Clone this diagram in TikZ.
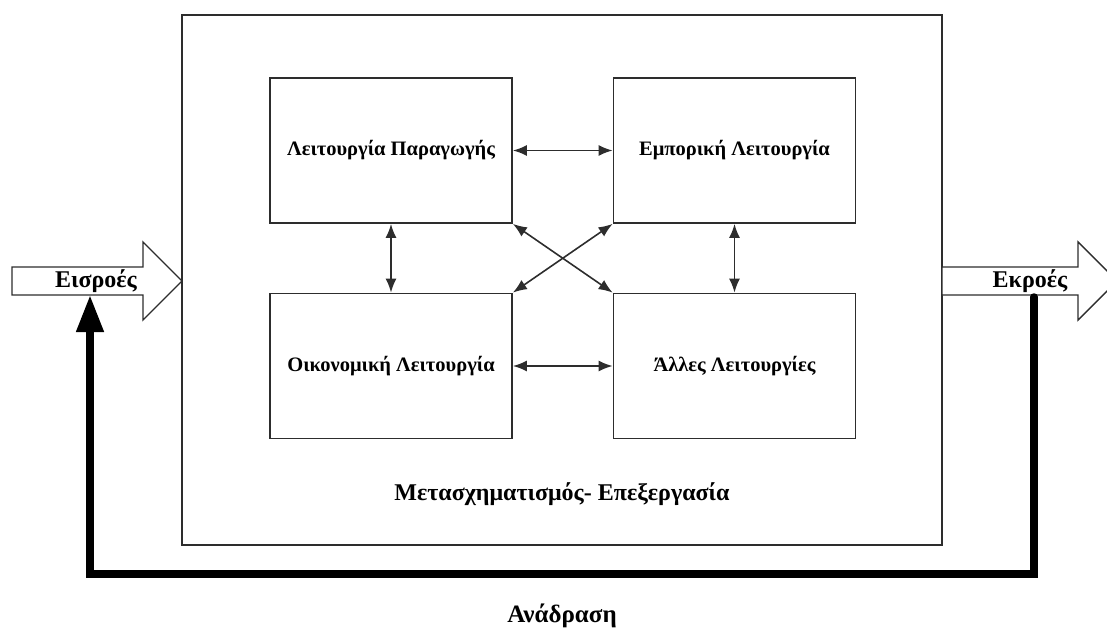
\documentclass[tikz,border=0pt]{standalone}
\usepackage{fontspec}
\setmainfont{Liberation Serif}
\usetikzlibrary{arrows.meta}
\definecolor{linegray}{RGB}{45,45,45}
\begin{document}
\begin{tikzpicture}[x=1pt,y=-1pt,
  line/.style={draw=linegray, line width=1.8pt},
  fbox/.style={line, minimum width=242pt, minimum height=145pt, inner sep=0pt,
    font=\fontsize{20.5}{24}\selectfont\bfseries},
  link/.style={draw=linegray, line width=1.6pt,
    {Latex[length=14pt,width=11pt]}-{Latex[length=14pt,width=11pt]}},
  blockarrow/.style={draw=linegray, line width=1.4pt, fill=white, line join=miter},
  bigtext/.style={font=\fontsize{24}{28}\selectfont\bfseries, inner sep=0pt},
  feedback/.style={draw=black, line width=7.5pt, line cap=round,
    -{Triangle[length=37pt,width=26pt]}}
]
\useasboundingbox (0,0) rectangle (1107,628);

% transformation box
\node[line, minimum width=760pt, minimum height=530pt, inner sep=0pt] (outer) at (562,280) {};
\node[bigtext] (caption) at (562,494) {Μετασχηματισμός- Επεξεργασία};

% the four functions
\node[fbox] (prod) at (391,150.5) {Λειτουργία Παραγωγής};
\node[fbox] (comm) at (734.5,150.5) {Εμπορική Λειτουργία};
\node[fbox] (fin)  at (391,366) {Οικονομική Λειτουργία};
\node[fbox] (other) at (734.5,366) {Άλλες Λειτουργίες};

% links between functions
\draw[link] (prod.east) -- (comm.west);
\draw[link] (fin.east) -- (other.west);
\draw[link] (prod.south) -- (fin.north);
\draw[link] (comm.south) -- (other.north);
\draw[link] (prod.south east) -- (other.north west);
\draw[link] (comm.south west) -- (fin.north east);

% inputs and outputs
\draw[blockarrow] (12,267) -- (143,267) -- (143,242) -- (182,281) -- (143,320) -- (143,295) -- (12,295) -- cycle;
\node[bigtext] (inputs) at (96,281) {Εισροές};
\draw[blockarrow] (942,267) -- (1078,267) -- (1078,242) -- (1117,281) -- (1078,320) -- (1078,295) -- (942,295) -- cycle;
\node[bigtext] (outputs) at (1030,281) {Εκροές};

% feedback loop
\coordinate (fbstart) at (1034,297);
\coordinate (fbright) at (1034,574);
\coordinate (fbleft) at (90,574);
\coordinate (fbend) at (90,295);
\draw[feedback] (fbstart) -- (fbright) -- (fbleft) -- (fbend);
\node[bigtext, font=\fontsize{25}{29}\selectfont\bfseries] (fblabel) at (562,616) {Ανάδραση};
\end{tikzpicture}
\end{document}
